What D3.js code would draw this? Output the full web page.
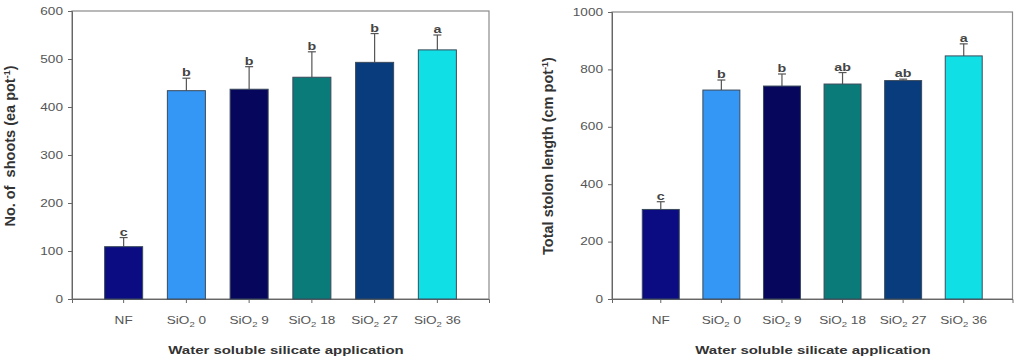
<!DOCTYPE html>
<html><head><meta charset="utf-8">
<script src="https://cdn.jsdelivr.net/npm/d3@7"></script>
<style>body{margin:0;background:#fff}svg{display:block}text{font-family:"Liberation Sans",Arial,sans-serif;white-space:pre}</style>
</head><body>
<svg id="c" width="1023" height="363"></svg>
<script>
const categories = ["NF","SiO2 0","SiO2 9","SiO2 18","SiO2 27","SiO2 36"];
const colors = ["#0c0c82","#3597f5","#06065c","#0b7b7a","#083c7c","#10e0e6"];
const shoots = [109,434,437,462,493,519];
const shootsErr = [128,460,484,515,553,550];
const shootsLetters = ["c","b","b","b","b","a"];
const stolon = [312,728,742,749,761,847];
const stolonErr = [339,763,784,789,766,889];
const stolonLetters = ["c","b","b","ab","ab","a"];
const shootTicks = [0,100,200,300,400,500,600];
const stolonTicks = [0,200,400,600,800,1000];

const SX = 1.36; // horizontal stretch of text in the reference
const svg = d3.select("#c");

function stext(g, x, y, anchor){
  return g.append("text").attr("transform",`translate(${x},${y}) scale(${SX},1)`).attr("text-anchor",anchor);
}

function panel(o){
  const g = svg.append("g");
  const x = d3.scaleBand().domain(categories).range([o.x0,o.x1]).paddingInner(o.pi).paddingOuter(o.po);
  const y = d3.scaleLinear().domain([0,o.max]).range([o.y1,o.y0]);
  g.append("rect").attr("x",o.x0).attr("y",o.y0).attr("width",o.x1-o.x0).attr("height",o.y1-o.y0)
    .attr("fill","none").attr("stroke","#8a8a8a").attr("stroke-width",1.2);
  const ya = g.append("g").attr("transform",`translate(${o.x0},0)`)
    .call(d3.axisLeft(y).tickValues(o.ticks).tickSize(4).tickFormat(""));
  ya.select(".domain").attr("stroke","#666");
  ya.selectAll(".tick line").attr("stroke","#666");
  o.ticks.forEach(t=>{
    stext(g, o.x0-9, y(t)+3.5, "end").attr("fill","#555").style("font-size","10px").text(d3.format("d")(t));
  });
  const xa = g.append("g").attr("transform",`translate(0,${o.y1})`)
    .call(d3.axisBottom(x).tickSize(4).tickFormat(""));
  xa.select(".domain").attr("stroke","#666");
  xa.selectAll(".tick line").attr("stroke","#666");
  const bw = x.bandwidth();
  categories.forEach(c=>{
    const t = stext(g, x(c)+bw/2, o.y1+25, "middle").attr("fill","#555").style("font-size","10px");
    if(c==="NF"){ t.text("NF"); }
    else {
      const n = c.split(" ")[1];
      t.append("tspan").text("SiO");
      t.append("tspan").text("2").style("font-size","7px").attr("dy",3);
      t.append("tspan").text(" "+n).attr("dy",-3);
    }
  });
  categories.forEach((c,i)=>{
    const cx = x(c)+bw/2;
    g.append("line").attr("x1",cx).attr("x2",cx).attr("y1",y(o.vals[i])).attr("y2",y(o.err[i]))
      .attr("stroke","#555").attr("stroke-width",1.2);
    g.append("line").attr("x1",cx-4).attr("x2",cx+4).attr("y1",y(o.err[i])).attr("y2",y(o.err[i]))
      .attr("stroke","#555").attr("stroke-width",1.2);
    stext(g, cx, y(o.err[i])-2, "middle").attr("fill","#444").style("font-size","10.5px")
      .style("font-weight","bold").text(o.letters[i]);
  });
  g.selectAll("rect.bar").data(o.vals).enter().append("rect").attr("class","bar")
    .attr("x",(d,i)=>x(categories[i])).attr("width",bw)
    .attr("y",d=>y(d)).attr("height",d=>o.y1-y(d))
    .attr("fill",(d,i)=>colors[i]).attr("stroke","#3a4a5a").attr("stroke-width",1);
  g.append("text").attr("transform",`translate(${o.ytx},${o.ytc}) rotate(-90)`)
    .attr("text-anchor","middle").attr("fill","#333").style("font-size","14.5px").style("font-weight","bold")
    .call(t=>{ t.append("tspan").text(o.ytitle); t.append("tspan").text("-1").style("font-size","9px").attr("dy",-5);
      t.append("tspan").text(")").attr("dy",5); });
  stext(g, o.xtx, 354, "middle").attr("fill","#333").style("font-size","11px").style("font-weight","bold")
    .text("Water soluble silicate application");
}

panel({x0:72,x1:489,y0:11,y1:299,max:600,ticks:shootTicks,vals:shoots,err:shootsErr,letters:shootsLetters,
  pi:0.394,po:0.52,ytitle:"No. of  shoots (ea pot",ytx:14.5,ytc:146,xtx:286});
panel({x0:612,x1:1012.5,y0:12,y1:299,max:1000,ticks:stolonTicks,vals:stolon,err:stolonErr,letters:stolonLetters,
  pi:0.39,po:0.5,ytitle:"Total stolon length (cm pot",ytx:553,ytc:156,xtx:813});
</script>
</body></html>
